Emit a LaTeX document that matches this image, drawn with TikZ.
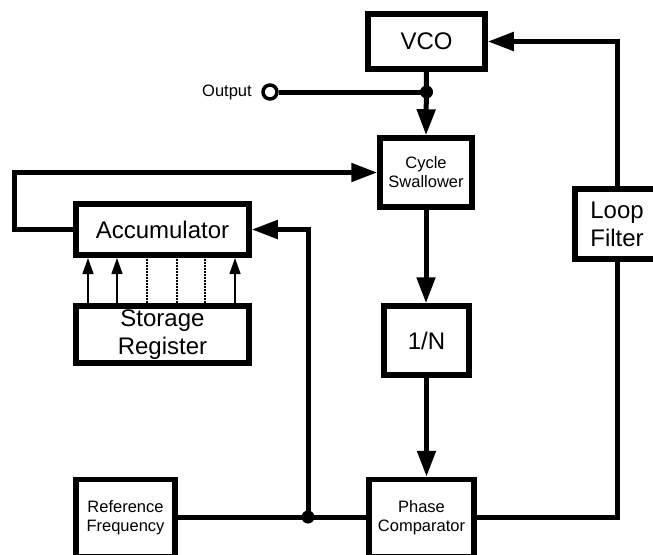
\documentclass[tikz,border=0pt]{standalone}
\usepackage{fontspec}
\setmainfont{Liberation Sans}
\usetikzlibrary{arrows.meta}

\newcommand{\bigtxt}{\fontsize{24}{28}\selectfont}
\newcommand{\smalltxt}{\fontsize{16.5}{19}\selectfont}

\tikzset{
  blk/.style={draw, line width=5.5pt, align=center, inner sep=0pt, font=\bigtxt},
  sblk/.style={blk, font=\smalltxt},
  link/.style={line width=5pt},
  arr/.style={link, -{Triangle[length=26pt,width=18pt]}},
  tap/.style={line width=1.3pt, -{Triangle[length=16pt,width=11pt]}},
  bus/.style={line width=1.3pt, dash pattern=on 2pt off 1pt},
  dot/.style={circle, fill, inner sep=0pt, minimum size=13pt}
}

\begin{document}
\begin{tikzpicture}[x=1pt, y=-1pt]
  \useasboundingbox (0,0) rectangle (653,554);

  % blocks
  \node[blk, minimum width=117pt, minimum height=55pt] (vco) at (426.5, 41.5) {VCO};
  \node[sblk, minimum width=92pt, minimum height=69pt] (cyc) at (426, 172.5) {Cycle\\Swallower};
  \node[blk, minimum width=173pt, minimum height=51pt] (acc) at (162.5, 229.5) {Accumulator};
  \node[blk, minimum width=173pt, minimum height=57pt] (reg) at (162.5, 334.5) {Storage\\Register};
  \node[blk, minimum width=85pt, minimum height=69pt] (ndiv) at (426.5, 340.5) {1/N};
  \node[blk, minimum width=84pt, minimum height=70pt] (loop) at (617, 224) {Loop\\Filter};
  \node[sblk, minimum width=99pt, minimum height=77pt] (ref) at (125.5, 518) {Reference\\Frequency};
  \node[sblk, minimum width=105pt, minimum height=77pt] (pc) at (421.5, 518) {Phase\\Comparator};

  % output tap
  \node[circle, draw, line width=3.5pt, minimum size=14pt, inner sep=0pt] (out) at (270, 92) {};
  \node[left=6pt, font=\smalltxt] at (out.west) {Output};
  \node[dot] (jout) at (426.5, 92) {};
  \coordinate (jref) at (308, 517);
  \node[dot] at (jref) {};

  % connectors
  \draw[arr] (vco.south) -- (cyc.north);
  \draw[link] (out.east) -- (jout.center);
  \draw[arr] (cyc.south) -- (cyc.south |- ndiv.north);
  \draw[arr] (ndiv.south) -- (ndiv.south |- pc.north);
  \draw[arr] (acc.west) -- (14, 229.5) |- (cyc.west);
  \draw[link] (ref.east |- jref) -- (pc.west |- jref);
  \draw[arr] (jref) |- (acc.east);
  \draw[link] (pc.east |- jref) -| (loop.south);
  \draw[arr] (loop.north) |- (vco.east);

  % register to accumulator
  \foreach \x in {88, 117, 235}
    \draw[tap] (\x, 303) -- (\x, 258);
  \foreach \x in {147, 177, 205}
    \draw[bus] (\x, 303) -- (\x, 258);
\end{tikzpicture}
\end{document}
